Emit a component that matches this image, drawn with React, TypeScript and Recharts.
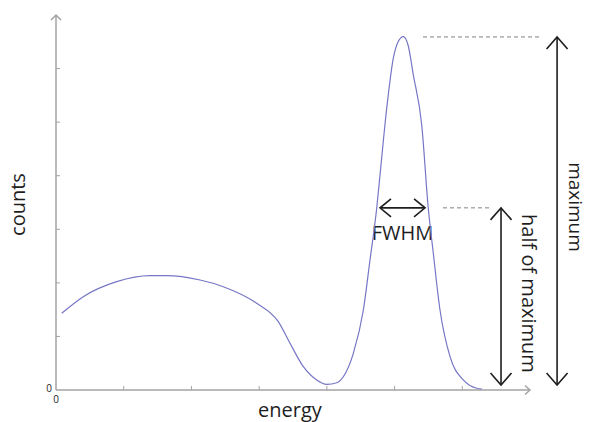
import React from 'react';
import {LineChart, Line, XAxis, YAxis, ReferenceLine, ReferenceDot} from 'recharts';

// spectrum (energy in tick units, counts in tick units)
const energy = [
  0.084, 0.403, 0.896, 1.388, 1.635, 2.127, 2.471, 2.964, 3.283, 3.456, 3.653, 3.85, 3.998, 4.146, 4.243, 4.391,
  4.539, 4.637, 4.736, 4.785, 4.884, 4.981, 5.051, 5.129, 5.199, 5.277, 5.401, 5.498, 5.572, 5.671, 5.819, 6.015,
  6.213, 6.292
];
const counts = [
  1.432, 1.742, 2.022, 2.134, 2.134, 2.053, 1.928, 1.618, 1.275, 0.872, 0.435, 0.187, 0.106, 0.136, 0.248, 0.685,
  1.493, 2.427, 3.392, 4.014, 5.259, 6.192, 6.496, 6.595, 6.44, 5.88, 4.947, 3.392, 2.552, 1.493, 0.622, 0.187,
  0.032, 0.019
];
const axisTicks = [1, 2, 3, 4, 5, 6];

// annotation levels
const PEAK = 6.59;
const HALF = 3.4;
const ARROW_FLOOR = 0.093;
const maxDash = [5.42, 7.15];
const halfDash = [5.715, 6.41];
const maxArrowX = 7.4;
const halfArrowX = 6.572;
const fwhmRange = [4.785, 5.45];

const data = energy.map((e, i) => ({energy: e, counts: counts[i]}));

const FONT = '"Open Sans", sans-serif';
const INK = '#1e1e1e';
const AXIS = '#a3a3a3';

type Seg = {x1: number; y1: number; x2: number; y2: number};

function head(tipX: number, tipY: number, fromX: number, fromY: number, len: number, half: number) {
  const dx = tipX - fromX;
  const dy = tipY - fromY;
  const d = Math.hypot(dx, dy) || 1;
  const ux = dx / d;
  const uy = dy / d;
  const bx = tipX - ux * len;
  const by = tipY - uy * len;
  return `M${bx - uy * half},${by + ux * half}L${tipX},${tipY}L${bx + uy * half},${by - ux * half}`;
}

function arrowShape(opts: {
  both?: boolean;
  len: number;
  half: number;
  color: string;
  width: number;
  text?: (s: Seg) => React.ReactNode;
}) {
  return (p: any) => {
    const {x1, y1, x2, y2} = p as Seg;
    return (
      <g>
        <line x1={x1} y1={y1} x2={x2} y2={y2} stroke={opts.color} strokeWidth={opts.width} />
        <path d={head(x2, y2, x1, y1, opts.len, opts.half)} fill="none" stroke={opts.color} strokeWidth={opts.width} />
        {opts.both && (
          <path d={head(x1, y1, x2, y2, opts.len, opts.half)} fill="none" stroke={opts.color} strokeWidth={opts.width} />
        )}
        {opts.text && opts.text({x1, y1, x2, y2})}
      </g>
    );
  };
}

const dashShape = (p: any) => (
  <line x1={p.x1} y1={p.y1} x2={p.x2} y2={p.y2} stroke="#808080" strokeWidth={1} strokeDasharray="4 3" />
);

// tick marks only, no labels
const noLabel = () => <g />;

const textStyle = {fontFamily: FONT, fontSize: 20, fill: INK};

export default function App() {
  return (
    <div style={{position: 'absolute', left: 0, top: 0, width: 589, height: 422, background: '#fff'}}>
      <LineChart width={589} height={422} data={data} margin={{top: 15, right: 59, bottom: 12, left: 36}}>
        <XAxis
          dataKey="energy"
          type="number"
          domain={[0, 7]}
          ticks={axisTicks}
          height={20}
          axisLine={false}
          tickLine={{stroke: AXIS, strokeWidth: 1}}
          tickSize={-4}
          tick={noLabel}
        />
        <YAxis
          type="number"
          domain={[0, 7]}
          ticks={axisTicks}
          width={20}
          axisLine={false}
          tickLine={{stroke: AXIS, strokeWidth: 1}}
          tickSize={-4}
          tick={noLabel}
        />
        <ReferenceLine
          segment={[{x: 0, y: 0}, {x: 7, y: 0}]}
          ifOverflow="visible"
          shape={arrowShape({
            len: 5,
            half: 4.5,
            color: AXIS,
            width: 1.5,
            text: (s) => (
              <text x={(s.x1 + s.x2) / 2 - 3} y={s.y1 + 27} textAnchor="middle" style={textStyle}>
                energy
              </text>
            )
          })}
        />
        <ReferenceLine
          segment={[{x: 0, y: 0}, {x: 0, y: 7}]}
          ifOverflow="visible"
          shape={arrowShape({
            len: 5,
            half: 5,
            color: AXIS,
            width: 1.5,
            text: (s) => (
              <text
                transform={`translate(${s.x1 - 31},${(s.y1 + s.y2) / 2 + 2}) rotate(-90)`}
                textAnchor="middle"
                style={textStyle}
              >
                counts
              </text>
            )
          })}
        />
        <ReferenceDot
          x={0}
          y={0}
          ifOverflow="visible"
          shape={(p: any) => (
            <g style={{fontFamily: FONT, fontSize: 10, fill: INK}}>
              <text x={p.cx - 4} y={p.cy + 2} textAnchor="end">
                0
              </text>
              <text x={p.cx} y={p.cy + 13} textAnchor="middle">
                0
              </text>
            </g>
          )}
        />
        <ReferenceLine segment={[{x: maxDash[0], y: PEAK}, {x: maxDash[1], y: PEAK}]} ifOverflow="visible" shape={dashShape} />
        <ReferenceLine segment={[{x: halfDash[0], y: HALF}, {x: halfDash[1], y: HALF}]} ifOverflow="visible" shape={dashShape} />
        <ReferenceLine
          segment={[{x: maxArrowX, y: ARROW_FLOOR}, {x: maxArrowX, y: PEAK}]}
          ifOverflow="visible"
          shape={arrowShape({
            both: true,
            len: 12,
            half: 10.5,
            color: INK,
            width: 1.6,
            text: (s) => (
              <text
                transform={`translate(${s.x1 + 12},${(s.y1 + s.y2) / 2 - 4}) rotate(90)`}
                textAnchor="middle"
                style={{...textStyle, fontSize: 19}}
              >
                maximum
              </text>
            )
          })}
        />
        <ReferenceLine
          segment={[{x: halfArrowX, y: ARROW_FLOOR}, {x: halfArrowX, y: HALF}]}
          ifOverflow="visible"
          shape={arrowShape({
            both: true,
            len: 12,
            half: 10.5,
            color: INK,
            width: 1.6,
            text: (s) => (
              <text transform={`translate(${s.x1 + 21},${(s.y1 + s.y2) / 2 - 3}) rotate(90)`} textAnchor="middle" style={textStyle}>
                half of maximum
              </text>
            )
          })}
        />
        <ReferenceLine
          segment={[{x: fwhmRange[0], y: HALF}, {x: fwhmRange[1], y: HALF}]}
          ifOverflow="visible"
          shape={arrowShape({
            both: true,
            len: 11,
            half: 9,
            color: INK,
            width: 1.6,
            text: (s) => (
              <text x={(s.x1 + s.x2) / 2} y={s.y1 + 32} textAnchor="middle" style={textStyle}>
                FWHM
              </text>
            )
          })}
        />
        <Line
          type="monotone"
          dataKey="counts"
          stroke="#7676c6"
          strokeWidth={1.2}
          dot={false}
          activeDot={false}
          isAnimationActive={false}
        />
      </LineChart>
    </div>
  );
}
